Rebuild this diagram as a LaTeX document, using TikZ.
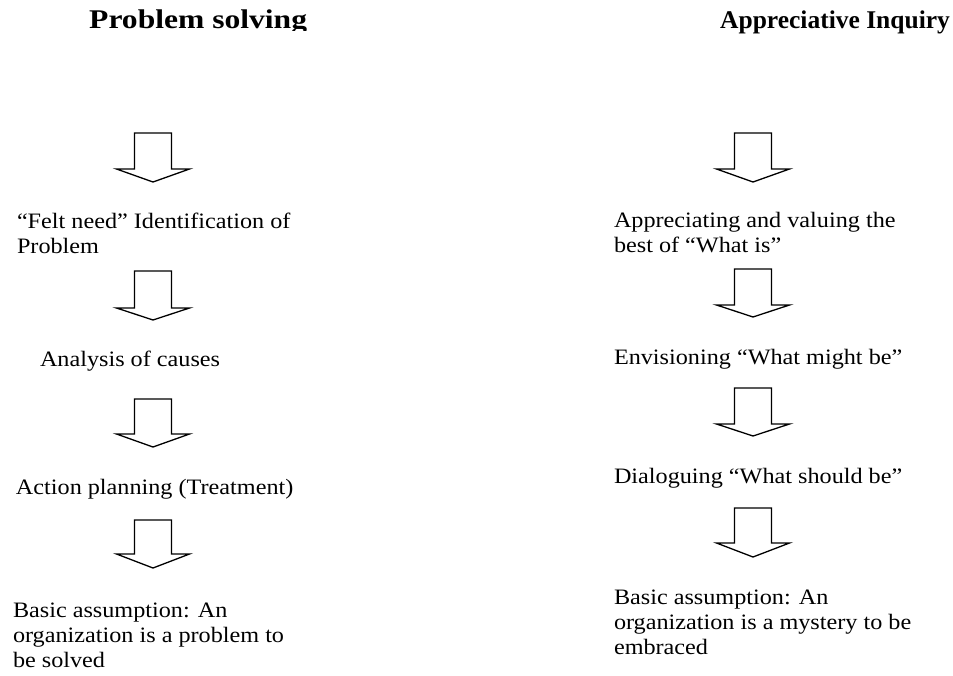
\documentclass[tikz,border=0pt]{standalone}
\usepackage{fontspec}
\setmainfont{Liberation Serif}[FakeStretch=1.1]
\newfontfamily\headwide{Liberation Serif}[FakeStretch=1.17]
\newfontfamily\headnarrow{Liberation Serif}
\begin{document}
\begin{tikzpicture}[x=1pt,y=-1pt,
  label/.style={anchor=base west,inner sep=0pt,outer sep=0pt,align=left,
    font=\fontsize{22}{25.3}\selectfont},
  blockarrow/.style={draw=black,line width=1.3pt,line join=miter,fill=white}]
\useasboundingbox (0,0) rectangle (953,675);

% column headings
\begin{scope}
  \clip (0,0) rectangle (953,30.5);
  \node[anchor=base west,inner sep=0pt,font=\headwide\bfseries\fontsize{27}{30}\selectfont] (hl) at (89,28) {Problem solving};
\end{scope}
\node[anchor=base west,inner sep=0pt,font=\headnarrow\bfseries\fontsize{25.5}{30}\selectfont] (hr) at (720,28) {Appreciative Inquiry};

% downward block arrow: centre x, shaft top, shoulder, tip
\newcommand\downblock[4]{%
  \draw[blockarrow] (#1-18.5,#2) -- (#1+18.5,#2) -- (#1+18.5,#3) -- (#1+36.5,#3)
    -- (#1,#4) -- (#1-36.5,#3) -- (#1-18.5,#3) -- cycle;}

% a multi-line block sits on the baseline of its last line
\newcommand\lineskipy{25.3}

% problem solving column
\downblock{153}{133}{169}{182}
\node[label] (l1) at (17,228+\lineskipy) {“Felt need” Identification of\\Problem};
\downblock{153}{271}{308}{320}
\node[label] (l2) at (40,366) {Analysis of causes};
\downblock{153}{399}{434}{447}
\node[label] (l3) at (16,494) {Action planning (Treatment)};
\downblock{153}{520}{554}{568}
\node[label] (l4) at (13,617+2*\lineskipy) {Basic assumption: An\\organization is a problem to\\be solved};

% appreciative inquiry column
\downblock{753}{133}{169}{182}
\node[label] (r1) at (614,227+\lineskipy) {Appreciating and valuing the\\best of “What is”};
\downblock{753}{269}{305}{317}
\node[label] (r2) at (614,364) {Envisioning “What might be”};
\downblock{753}{388}{424}{436}
\node[label] (r3) at (614,483) {Dialoguing “What should be”};
\downblock{753}{508}{543}{557}
\node[label] (r4) at (614,604+2*\lineskipy) {Basic assumption: An\\organization is a mystery to be\\embraced};
\end{tikzpicture}
\end{document}
